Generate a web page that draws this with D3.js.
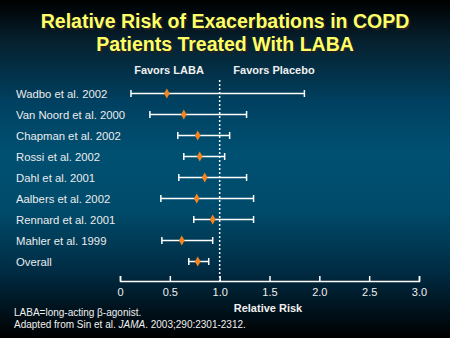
<!DOCTYPE html>
<html>
<head>
<meta charset="utf-8">
<script src="https://cdn.jsdelivr.net/npm/d3@7"></script>
<style>
  body { margin: 0; background: #000; }
  svg { display: block; font-family: "Liberation Sans", Arial, sans-serif; }
</style>
</head>
<body>
<div id="chart"></div>
<script>
var width = 450,
    height = 338;

var studies = ['Wadbo et al. 2002', 'Van Noord et al. 2000', 'Chapman et al. 2002', 'Rossi et al. 2002',
  'Dahl et al. 2001', 'Aalbers et al. 2002', 'Rennard et al. 2001', 'Mahler et al. 1999', 'Overall'];
var rr = [0.47, 0.64, 0.78, 0.80, 0.85, 0.77, 0.93, 0.62, 0.78];
var lower = [0.11, 0.30, 0.58, 0.64, 0.59, 0.41, 0.74, 0.42, 0.69];
var upper = [1.85, 1.27, 1.10, 1.05, 1.27, 1.34, 1.34, 0.93, 0.89];
var ticks = [0, 0.5, 1.0, 1.5, 2.0, 2.5, 3.0];

var svg = d3.select('#chart').append('svg')
  .attr('width', width)
  .attr('height', height);

// background gradient
var grad = svg.append('defs').append('linearGradient')
  .attr('id', 'bg').attr('x1', 0).attr('y1', 0).attr('x2', 0).attr('y2', 1);
[[0, '#000000'], [0.12, '#06202e'], [0.3, '#004060'], [0.45, '#005072'],
 [0.62, '#004b6b'], [0.8, '#002c44'], [1, '#000000']].forEach(function (s) {
  grad.append('stop').attr('offset', s[0]).attr('stop-color', s[1]);
});
svg.append('rect').attr('width', width).attr('height', height).attr('fill', 'url(#bg)');

// title
var title = ['Relative Risk of Exacerbations in COPD', 'Patients Treated With LABA'];
title.forEach(function (t, i) {
  svg.append('text')
    .attr('x', 225).attr('y', 28 + i * 23)
    .attr('text-anchor', 'middle')
    .attr('font-size', 19.5).attr('font-weight', 'bold')
    .attr('fill', '#222').text(t)
    .attr('transform', 'translate(1.5,1.5)');
  svg.append('text')
    .attr('x', 225).attr('y', 28 + i * 23)
    .attr('text-anchor', 'middle')
    .attr('font-size', 19.5).attr('font-weight', 'bold')
    .attr('fill', '#ffff66').text(t);
});

var x = d3.scaleLinear().domain([0, 3]).range([120, 419]);
var y = d3.scaleBand().domain(studies).range([83, 272]);

svg.append('text').attr('x', 169).attr('y', 74).attr('text-anchor', 'middle')
  .attr('font-size', 11).attr('font-weight', 'bold').attr('fill', '#f0f0f0').text('Favors LABA');
svg.append('text').attr('x', 274).attr('y', 74).attr('text-anchor', 'middle')
  .attr('font-size', 11).attr('font-weight', 'bold').attr('fill', '#f0f0f0').text('Favors Placebo');

// reference line at 1
svg.append('line')
  .attr('x1', x(1)).attr('x2', x(1))
  .attr('y1', 80).attr('y2', 281)
  .attr('stroke', '#fff').attr('stroke-width', 1.5)
  .attr('stroke-dasharray', '2,2');

// study labels
svg.selectAll('.lbl').data(studies).enter().append('text')
  .attr('class', 'lbl')
  .attr('x', 16)
  .attr('y', function (d) { return y(d) + y.bandwidth() / 2 + 4; })
  .attr('font-size', 11.3).attr('fill', '#ececec')
  .text(function (d) { return d; });

// error bars
var rows = svg.selectAll('.row').data(studies).enter().append('g')
  .attr('transform', function (d) { return 'translate(0,' + (y(d) + y.bandwidth() / 2) + ')'; });
rows.append('line')
  .attr('x1', function (d, i) { return x(lower[i]); })
  .attr('x2', function (d, i) { return x(upper[i]); })
  .attr('stroke', '#fff').attr('stroke-width', 1.5);
rows.append('line')
  .attr('x1', function (d, i) { return x(lower[i]); })
  .attr('x2', function (d, i) { return x(lower[i]); })
  .attr('y1', -3.5).attr('y2', 3.5)
  .attr('stroke', '#fff').attr('stroke-width', 1.5);
rows.append('line')
  .attr('x1', function (d, i) { return x(upper[i]); })
  .attr('x2', function (d, i) { return x(upper[i]); })
  .attr('y1', -3.5).attr('y2', 3.5)
  .attr('stroke', '#fff').attr('stroke-width', 1.5);
rows.append('path')
  .attr('d', d3.symbol().type(d3.symbolDiamond).size(28))
  .attr('transform', function (d, i) { return 'translate(' + x(rr[i]) + ',0)'; })
  .attr('fill', '#f5841f');

// x axis
var xAxis = d3.axisBottom(x).tickValues(ticks).tickSizeInner(-5).tickSizeOuter(-5)
  .tickFormat(function (d) { return d === 0 ? '0' : d3.format('.1f')(d); });
var gx = svg.append('g').attr('transform', 'translate(0,281)').call(xAxis);
gx.select('.domain').attr('stroke', '#fff').attr('stroke-width', 1.5);
gx.selectAll('.tick line').attr('stroke', '#fff').attr('stroke-width', 1.5);
gx.selectAll('.tick text').attr('fill', '#f0f0f0').attr('font-size', 11)
  .attr('font-family', '"Liberation Sans", Arial, sans-serif').attr('dy', '1.1em');

svg.append('text').attr('x', 268).attr('y', 312).attr('text-anchor', 'middle')
  .attr('font-size', 11).attr('font-weight', 'bold').attr('fill', '#f0f0f0').text('Relative Risk');

// footnotes
svg.append('text').attr('x', 14).attr('y', 316).attr('font-size', 10).attr('fill', '#f0f0f0')
  .text('LABA=long-acting \u03b2-agonist.');
var fn = svg.append('text').attr('x', 14).attr('y', 328).attr('font-size', 10).attr('fill', '#f0f0f0');
fn.append('tspan').text('Adapted from Sin et al. ');
fn.append('tspan').attr('font-style', 'italic').text('JAMA');
fn.append('tspan').text('. 2003;290:2301-2312.');
</script>
</body>
</html>
